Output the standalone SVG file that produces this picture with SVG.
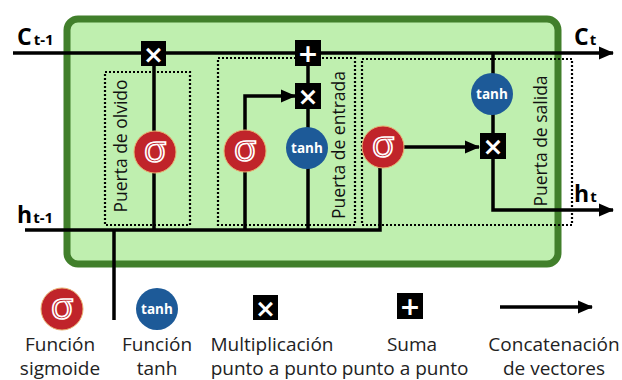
<svg xmlns="http://www.w3.org/2000/svg" width="622" height="380" viewBox="0 0 622 380">
<defs>
<marker id="ah" markerUnits="userSpaceOnUse" markerWidth="15" markerHeight="15" viewBox="0 0 15 15" refX="14" refY="7.5" orient="auto">
<path d="M0,1 L15,7.5 L0,14 Z" fill="#000"/>
</marker>
</defs>
<style>
.ln{fill:none;stroke:#000;stroke-width:3.5}
.dot{fill:none;stroke:#000;stroke-width:2.2;stroke-dasharray:2 2}
.sig{fill:#c0242a;stroke:#e8b070;stroke-width:1}
.tnh{fill:#1d5a98}
.sg{font-family:"Open Sans","DejaVu Sans",sans-serif;font-size:37px;fill:#c0242a;stroke:#fff;stroke-width:1.7;text-anchor:middle}
.tt{font-family:"Open Sans",sans-serif;font-weight:bold;font-size:13.5px;fill:#fff;text-anchor:middle}
.op{fill:#000}
.os{font-family:"DejaVu Sans",sans-serif;font-weight:bold;font-size:25px;fill:#fff;text-anchor:middle}
.lbl{font-family:"Open Sans",sans-serif;font-weight:bold;fill:#000}
.gate{font-family:"Open Sans",sans-serif;font-size:17.5px;fill:#111;text-anchor:middle}
.leg{font-family:"Open Sans",sans-serif;font-size:19px;fill:#222;text-anchor:middle}
</style>
<rect x="67" y="19" width="491" height="245" rx="11" fill="#bfefaf" stroke="#417f2b" stroke-width="7"/>

<g id="gate-boxes">
<rect class="dot" x="105" y="72" width="85" height="153"/>
<rect class="dot" x="218" y="58" width="137" height="167"/>
<rect class="dot" x="362" y="59" width="210" height="166"/>
<text class="gate" transform="translate(127,146) rotate(-90)">Puerta de olvido</text>
<text class="gate" transform="translate(345,145) rotate(-90)">Puerta de entrada</text>
<text class="gate" transform="translate(547,141) rotate(-90)">Puerta de salida</text>
</g>

<g id="connectors">
<path class="ln" d="M13,53 H613" marker-end="url(#ah)"/>
<path class="ln" d="M25,230 H380 V168"/>
<path class="ln" d="M154,53 V230"/>
<path class="ln" d="M308,53 V230"/>
<path class="ln" d="M245,230 V96 H295" marker-end="url(#ah)"/>
<path class="ln" d="M404,147 H479" marker-end="url(#ah)"/>
<path class="ln" d="M493,53 V210 H613" marker-end="url(#ah)"/>
<path class="ln" d="M114,230 V320"/>
<path class="ln" d="M500,307 H592" marker-end="url(#ah)"/>
</g>

<g id="labels">
<text class="lbl" x="17" y="45" font-size="23">C<tspan font-size="15" dx="2">t-1</tspan></text>
<text class="lbl" x="17" y="223" font-size="23">h<tspan font-size="15" dx="1">t-1</tspan></text>
<text class="lbl" x="574" y="45" font-size="23">C<tspan font-size="15" dx="1">t</tspan></text>
<text class="lbl" x="574" y="202" font-size="23">h<tspan font-size="15" dx="1">t</tspan></text>
</g>

<g id="forget-mult"><rect class="op" x="141" y="41" width="25" height="25"/><text class="os" x="153.5" y="62.5">×</text></g>
<g id="forget-sigma"><circle class="sig" cx="155" cy="152" r="21"/><text class="sg" x="155" y="162">σ</text></g>
<g id="input-sigma"><circle class="sig" cx="245" cy="151" r="21"/><text class="sg" x="245" y="161">σ</text></g>
<g id="input-tanh"><circle class="tnh" cx="307" cy="148" r="21"/><text class="tt" x="307" y="153">tanh</text></g>
<g id="input-mult"><rect class="op" x="295" y="83" width="26" height="26"/><text class="os" x="308" y="104.5">×</text></g>
<g id="add"><rect class="op" x="295" y="40" width="26" height="26"/><text class="os" x="308" y="62">+</text></g>
<g id="output-sigma"><circle class="sig" cx="383" cy="147" r="21"/><text class="sg" x="383" y="157">σ</text></g>
<g id="output-tanh"><circle class="tnh" cx="492" cy="94" r="21"/><text class="tt" x="492" y="99">tanh</text></g>
<g id="output-mult"><rect class="op" x="480" y="133" width="26" height="26"/><text class="os" x="493" y="154.5">×</text></g>

<g id="legend-sigma"><circle class="sig" cx="62" cy="309" r="21"/><text class="sg" x="62" y="319">σ</text>
<text class="leg" x="60" y="351">Función</text><text class="leg" x="60" y="375">sigmoide</text></g>
<g id="legend-tanh"><circle class="tnh" cx="157" cy="309" r="21"/><text class="tt" x="157" y="314">tanh</text>
<text class="leg" x="157" y="351">Función</text><text class="leg" x="157" y="375">tanh</text></g>
<g id="legend-mult"><rect class="op" x="253" y="295" width="25" height="25"/><text class="os" x="265.5" y="316.5">×</text>
<text class="leg" x="272" y="351">Multiplicación</text><text class="leg" x="274" y="375">punto a punto</text></g>
<g id="legend-add"><rect class="op" x="397" y="293" width="26" height="26"/><text class="os" x="410" y="315">+</text>
<text class="leg" x="412" y="351">Suma</text><text class="leg" x="405" y="375">punto a punto</text></g>
<g id="legend-concat">
<text class="leg" x="554" y="351">Concatenación</text><text class="leg" x="554" y="375">de vectores</text></g>
</svg>
